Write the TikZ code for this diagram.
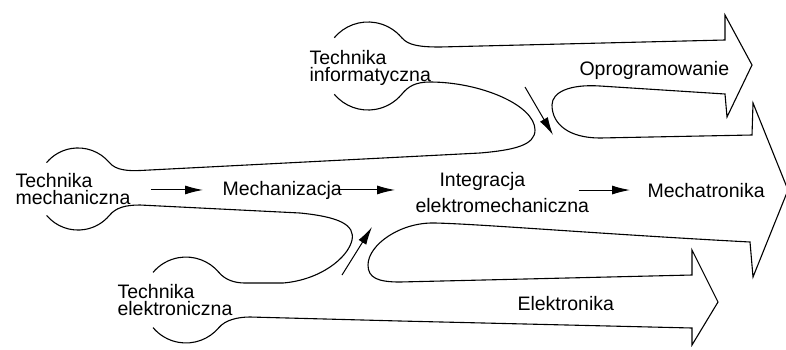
\documentclass[tikz,border=0pt]{standalone}
\usepackage{fontspec}
\setmainfont{Liberation Sans}
\usetikzlibrary{arrows.meta}

\begin{document}
\begin{tikzpicture}[x=1pt,y=1pt,line width=1.1pt,
  lbl/.style={anchor=base west,inner sep=0pt,align=left,font=\fontsize{19.5}{16.5}\selectfont},
  flow/.style={-{Latex[length=18pt,width=9pt]},line width=1pt}]
\path[use as bounding box] (0,0) rectangle (786,-349);
\node[lbl] (info) at (309,-81) {Technika\\informatyczna};
\node[lbl] (mech) at (15,-204) {Technika\\mechaniczna};
\node[lbl] (elec) at (117,-315) {Technika\\elektroniczna};
\node[lbl] (mechz) at (222,-195) {Mechanizacja};
\node[lbl] (intg) at (415,-212) {\hspace*{24pt}Integracja\\[6pt]elektromechaniczna};
\node[lbl] (mtr) at (647,-197) {Mechatronika};
\node[lbl] (soft) at (579,-75) {Oprogramowanie};
\node[lbl] (elek) at (517,-310) {Elektronika};
\draw (334.3,-37.7) arc[start angle=140,end angle=40,radius=44]
  .. controls (408.1,-45.4) and (420,-47) .. (440,-47) -- (725,-40) -- (725,-15) -- (752,-65) -- (727,-117) -- (725,-94)
  -- (600,-86) .. controls (570,-84) and (552,-92) .. (552,-105) .. controls (552,-125) and (570,-138) .. (600,-138)
  -- (752,-135) -- (753,-103) -- (788,-190) -- (753,-277) -- (750,-242)
  .. controls (600,-234) and (480,-224) .. (435,-223) .. controls (400,-222) and (368,-245) .. (368,-265)
  .. controls (368,-278) and (378,-282) .. (400,-282)
  -- (692,-275) -- (692,-250) -- (718,-302) -- (692,-345) -- (692,-328)
  -- (400,-321) -- (250,-317) .. controls (238,-317) and (225.3,-319.9) .. (218.9,-327.6)
  arc[start angle=-40,end angle=-140,radius=43];
\draw (334.3,-94.3) arc[start angle=-140,end angle=-40,radius=44]
  .. controls (408.1,-86.6) and (415,-82) .. (430,-82) .. controls (480,-82) and (535,-105) .. (535,-130)
  .. controls (535,-145) and (515,-150) .. (480,-153) -- (140,-170.5)
  .. controls (128,-171) and (115.8,-170.3) .. (109.4,-162.6) arc[start angle=40,end angle=140,radius=41];
\draw (46.6,-215.4) arc[start angle=-140,end angle=-40,radius=41]
  .. controls (115.8,-207.7) and (125,-205) .. (140,-205) -- (300,-213)
  .. controls (340,-217) and (355,-225) .. (352,-240) .. controls (348,-258) and (320,-280) .. (283,-283) -- (245,-283)
  .. controls (235,-283) and (225.3,-280.1) .. (218.9,-272.4) arc[start angle=40,end angle=140,radius=43];
\coordinate (softin) at (525,-87);
\coordinate (softout) at (553,-135);
\coordinate (elecin) at (342,-275);
\coordinate (elecout) at (372,-227);
\draw[flow,shorten <=20pt,shorten >=19pt] (mech.east |- mechz.west) -- (mechz.west);
\draw[flow,shorten <=-6pt,shorten >=20pt] (mechz.east) -- (mechz.east -| intg.west);
\draw[flow,shorten <=-11pt,shorten >=17pt] (mtr.west -| intg.east) -- (mtr.west);
\draw[flow] (softin) -- (softout);
\draw[flow] (elecin) -- (elecout);
\end{tikzpicture}
\end{document}
